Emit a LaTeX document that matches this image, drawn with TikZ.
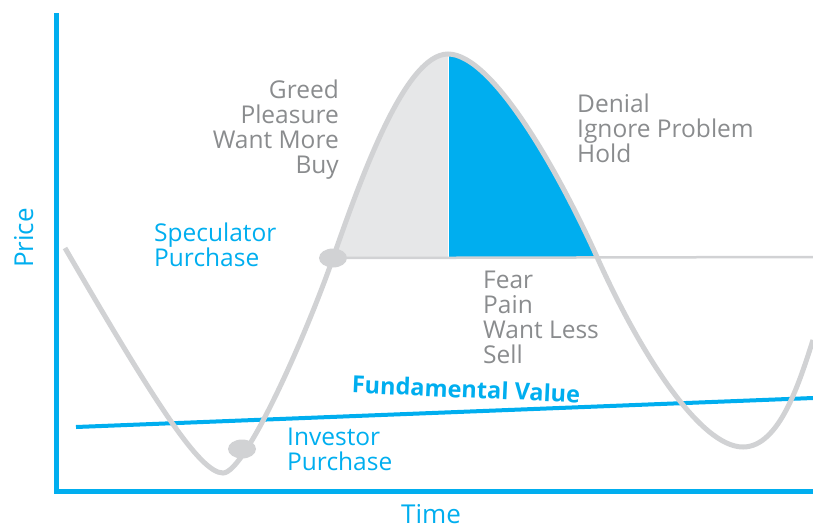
\documentclass[tikz,border=0pt]{standalone}
\usepackage{fontspec}
\setmainfont{Open Sans}
\usetikzlibrary{shapes.geometric}
\definecolor{cyanblue}{HTML}{00AEEF}
\definecolor{curvegray}{HTML}{D1D2D4}
\definecolor{areagray}{HTML}{E6E7E8}
\definecolor{moodgray}{HTML}{8A8C8E}
% price path, peak at x=448
\def\pricecurve{(65,248) .. controls (155,403) and (200,473) .. (223,473)
  .. controls (245,473) and (305,338) .. (333,258)
  .. controls (361,178) and (405,54) .. (448,54)
  .. controls (493,54) and (560,175) .. (597,257)
  .. controls (640,353) and (700,447) .. (743,447)
  .. controls (780,447) and (800,380) .. (813,340)}
\begin{document}
\begin{tikzpicture}[x=1pt,y=-1pt,
          moodtext/.style={text=moodgray,inner sep=0pt,font=\fontsize{24.5}{25}\selectfont},
          buytext/.style={text=cyanblue,inner sep=0pt,font=\fontsize{24.5}{25}\selectfont},
          dot/.style={ellipse,fill=curvegray,inner sep=0pt,minimum width=28pt,minimum height=19pt}]
          \useasboundingbox (0,0) rectangle (813,528);
          % shaded areas under the top
          \begin{scope}
            \clip \pricecurve -- (813,600) -- (65,600) -- cycle;
            \fill[areagray] (300,0) rectangle (447.6,257);
            \fill[cyanblue] (448.6,0) rectangle (650,257);
          \end{scope}
          \node[dot] (specdot) at (333,258) {};
          \node[dot] (invdot) at (242,449) {};
          \coordinate (lineend) at (813,257);
          \draw[curvegray,line width=2.5pt] (specdot.center) -- (lineend);
          % fundamental value
          \coordinate (fvstart) at (76,427);
          \coordinate (fvend) at (813,398);
          \draw[cyanblue,line width=4pt] (fvstart) -- (fvend);
          \draw[curvegray,line width=5pt] \pricecurve;
          % axes
          \coordinate (ytop) at (56,13);
          \coordinate (origin) at (56,491.5);
          \coordinate (xend) at (813,491.5);
          \draw[cyanblue,line width=5pt] (ytop) -- (origin) -- (xend);
          \node[text=cyanblue,inner sep=0pt,rotate=90,anchor=base,font=\fontsize{26}{30}\selectfont] (price) at (33,238) {Price};
          \node[text=cyanblue,inner sep=0pt,anchor=base,font=\fontsize{26}{30}\selectfont] (time) at (431,523) {Time};
          \node[moodtext,align=right,anchor=base east] (greed) at (339,173) {Greed\\Pleasure\\Want More\\Buy};
          \node[moodtext,align=left,anchor=base west] (denial) at (577,162) {Denial\\Ignore Problem\\Hold};
          \node[moodtext,align=left,anchor=base west] (fear) at (483,363) {Fear\\Pain\\Want Less\\Sell};
          \node[buytext,align=left,anchor=base west] (speculator) at (154,266) {Speculator\\Purchase};
          \node[buytext,align=left,anchor=base west] (investor) at (287,470) {Investor\\Purchase};
          \node[text=cyanblue,inner sep=0pt,rotate=-2.5,font=\bfseries\fontsize{23.5}{25}\selectfont] (fvlabel) at (466,389) {Fundamental Value};
        \end{tikzpicture}
\end{document}
